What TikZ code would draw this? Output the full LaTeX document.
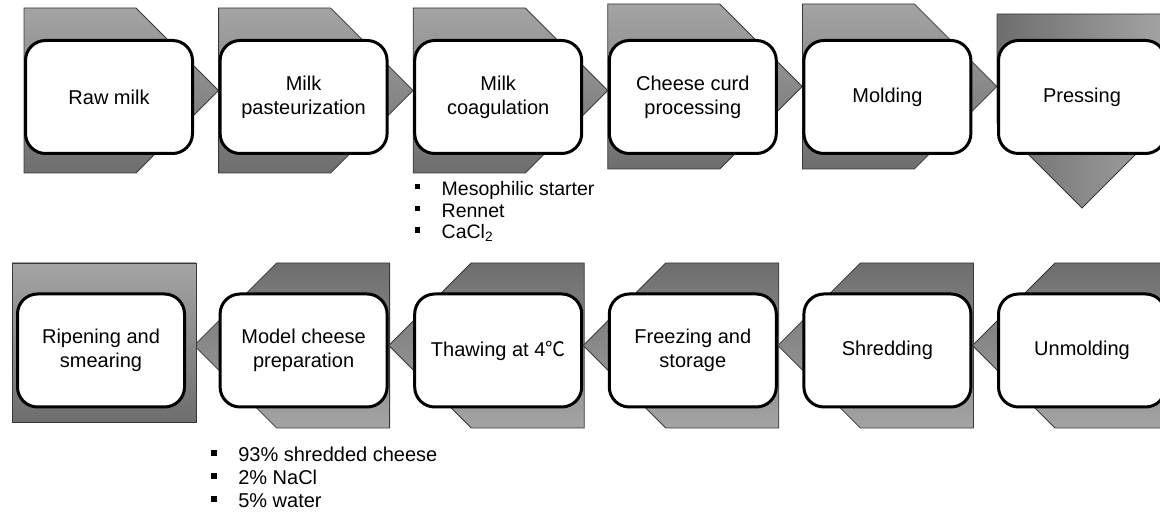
\documentclass[tikz,border=0pt]{standalone}
\usepackage{fontspec}
\setmainfont{Liberation Sans}
\newfontfamily\cjkfont{Noto Sans CJK SC}
\usepackage{xcolor}
\usepackage{tikz}
\usetikzlibrary{positioning,calc,backgrounds}
\definecolor{chevlight}{RGB}{164,164,164}
\definecolor{chevdark}{RGB}{110,110,110}
\definecolor{chevline}{RGB}{55,55,55}
\newcommand{\sqbullet}{\raisebox{6pt}{\rule{5.5pt}{5.5pt}}\hspace{21.5pt}}
\tikzset{
  stepbox/.style={rounded corners=20pt, draw=black, line width=3pt, fill=white, align=center, minimum width=167pt, minimum height=113pt, inner sep=2pt, font=\fontsize{20}{24}\selectfont},
  chev/.style={draw=chevline, line width=0.8pt},
  addlist/.style={align=left, inner sep=0pt, anchor=north west},
}

\begin{document}
\begin{tikzpicture}[x=1pt, y=1pt]
  \useasboundingbox (0,0) rectangle (1160,514);
  % top row, left to right
  \node[stepbox] (raw) at (109,417) {Raw milk};
  \node[stepbox, right=24.6pt of raw] (past) {Milk\\pasteurization};
  \node[stepbox, right=24.6pt of past] (coag) {Milk\\coagulation};
  \node[stepbox, right=24.6pt of coag] (curd) {Cheese curd\\processing};
  \node[stepbox, right=24.6pt of curd] (mold) {Molding};
  \node[stepbox, right=24.6pt of mold] (press) {Pressing};
  % bottom row, right to left
  \node[stepbox, below=137.5pt of press] (unmold) {Unmolding};
  \node[stepbox, left=24.6pt of unmold] (shred) {Shredding};
  \node[stepbox, left=24.6pt of shred] (freeze) {Freezing and\\storage};
  \node[stepbox, left=24.6pt of freeze] (thaw) {Thawing at 4{\cjkfont ℃}};
  \node[stepbox, left=24.6pt of thaw] (model) {Model cheese\\preparation};
  \node[stepbox, left=32.6pt of model] (ripe) {Ripening and\\smearing};
  % additions
  \node[addlist, font=\fontsize{19.5}{21.7}\selectfont] (coagadd) at ($(coag.south west)+(1.3,-26)$)
    {\sqbullet Mesophilic starter\\ \sqbullet Rennet\\ \sqbullet CaCl\textsubscript{2}};
  \node[addlist, font=\fontsize{20}{23}\selectfont] (modeladd) at ($(model.south west)+(-7.5,-38.5)$)
    {\sqbullet 93\% shredded cheese\\ \sqbullet 2\% NaCl\\ \sqbullet 5\% water};
  % chevrons behind the boxes
  \begin{scope}[on background layer]
    \foreach \n/\dy in {raw/6.5, past/6.5, coag/6.5, curd/10.5, mold/10.5}
      \draw[chev, top color=chevlight, bottom color=chevdark]
        ($(\n.center)+(-85,82.5+\dy)$) -- ++(112,0) -- ++(82.5,-82.5)
        -- ++(-82.5,-82.5) -- ++(-112,0) -- cycle;
    \draw[chev, left color=chevdark, right color=chevlight]
      ($(press.center)+(-85,83)$) -- ++(170,0) -- ++(0,-109) -- ++(-85,-85) -- ++(-85,85) -- cycle;
    \foreach \n in {model, thaw, freeze, shred, unmold}
      \draw[chev, top color=chevdark, bottom color=chevlight]
        ($(\n.center)+(86,87.5)$) -- ++(-113,0) -- ++(-82.5,-82.5)
        -- ++(82.5,-82.5) -- ++(113,0) -- cycle;
    \draw[chev, top color=chevlight, bottom color=chevdark]
      ($(ripe.center)+(-89,87.5)$) rectangle ($(ripe.center)+(95,-71.5)$);
  \end{scope}
\end{tikzpicture}
\end{document}
